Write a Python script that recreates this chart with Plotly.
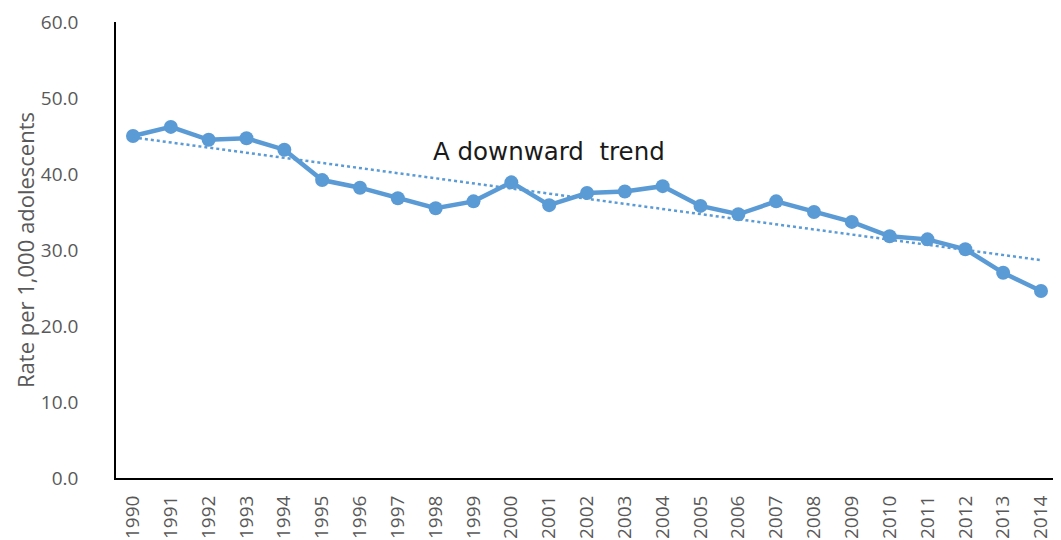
import numpy as np
import plotly.graph_objects as go

years = list(range(1990, 2015))
rates = [45.0, 46.2, 44.5, 44.7, 43.2, 39.2, 38.2, 36.8, 35.5, 36.4,
         38.9, 35.9, 37.5, 37.7, 38.4, 35.8, 34.7, 36.4, 35.0, 33.7,
         31.8, 31.4, 30.1, 27.0, 24.6]
y_ticks = [0, 10, 20, 30, 40, 50, 60]
annotation_text = "A downward&nbsp; trend"
y_title = "Rate per 1,000 adolescents"

blue = "#5B9BD5"
grey = "#595959"

slope, intercept = np.polyfit(years, rates, 1)
trend = [slope * x + intercept for x in years]

fig = go.Figure()
fig.add_trace(go.Scatter(
    x=years, y=trend, mode="lines",
    line=dict(color=blue, width=2.5, dash="dot"),
    hoverinfo="skip", showlegend=False, cliponaxis=False,
))
fig.add_trace(go.Scatter(
    x=years, y=rates, mode="lines+markers",
    line=dict(color=blue, width=4.5),
    marker=dict(color=blue, size=14),
    showlegend=False, cliponaxis=False,
))

fig.add_annotation(
    x=2001.0, y=43.0, text=annotation_text, showarrow=False,
    font=dict(family="DejaVu Sans", size=24.5, color="#1a1a1a"),
    xanchor="center", yanchor="middle",
)

# The page body has an 8px margin, so the figure is sized to fit the window.
fig.update_layout(
    width=1045, height=532,
    margin=dict(l=108, r=0, t=14, b=62, autoexpand=False),
    paper_bgcolor="white", plot_bgcolor="white",
    font=dict(family="Open Sans", color=grey),
)
fig.update_xaxes(
    range=[1989.551, 2014.317], automargin=False,
    tickmode="array", tickvals=years, ticktext=[str(y) for y in years],
    tickangle=-90, showgrid=False, zeroline=False,
    showline=True, linecolor="black", linewidth=2,
    ticks="", tickfont=dict(size=19, color=grey, family="Open Sans"),
    ticklabelstandoff=8, ticklabeloverflow="allow",
)
fig.update_yaxes(
    range=[0, 60], automargin=False,
    tickmode="array", tickvals=y_ticks, ticktext=[f"{v:.1f}" for v in y_ticks],
    showgrid=False, zeroline=False,
    showline=True, linecolor="black", linewidth=1.5,
    ticks="", tickfont=dict(size=19, color=grey, family="Open Sans"),
    ticklabelstandoff=32,
    title=dict(text=y_title, font=dict(size=22, color=grey, family="Open Sans"), standoff=0),
)

fig.write_html("out.html")
